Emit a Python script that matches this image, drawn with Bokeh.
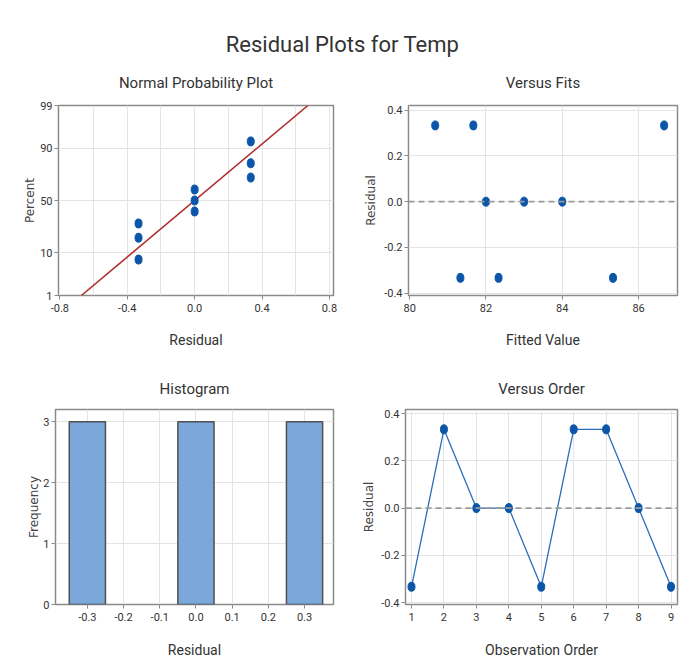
import math
from bokeh.plotting import figure
from bokeh.layouts import column, row
from bokeh.models import Range1d, FixedTicker, NumeralTickFormatter, Label, Title, Span
from bokeh.embed import file_html
from bokeh.resources import INLINE

# ---------------- data ----------------
main_title = "Residual Plots for Temp"

npp_residuals = [-0.333, -0.333, -0.333, 0.0, 0.0, 0.0, 0.333, 0.333, 0.333]
npp_percent = [7.4, 18.1, 28.7, 39.4, 50.0, 60.6, 71.3, 81.9, 92.6]
npp_tick_percent = [1, 10, 50, 90, 99]
fit_mean = 0.0
fit_sd = 0.289
fit_line_percent = [1, 99]

fitted_values = [80.67, 81.33, 81.67, 82.0, 82.33, 83.0, 84.0, 85.33, 86.67]
fits_residuals = [0.333, -0.333, 0.333, 0.0, -0.333, 0.0, 0.0, -0.333, 0.333]

hist_bin_centers = [-0.3, -0.2, -0.1, 0.0, 0.1, 0.2, 0.3]
hist_counts = [3, 0, 0, 3, 0, 0, 3]

observation_order = [1, 2, 3, 4, 5, 6, 7, 8, 9]
order_residuals = [-0.333, 0.333, 0.0, 0.0, -0.333, 0.333, 0.333, 0.0, -0.333]

# ---------------- helpers ----------------
NARROW = "Roboto"
WIDE = "DejaVu Sans"
TXT = "#333333"
BLUE = "#0B56A8"


def norm_ppf(p):
    lo, hi = -10.0, 10.0
    for _ in range(200):
        mid = 0.5 * (lo + hi)
        if 0.5 * (1 + math.erf(mid / math.sqrt(2))) < p:
            lo = mid
        else:
            hi = mid
    return 0.5 * (lo + hi)


def make_fig(title, width, height, xr, yr, bl, br, bt, bb, title_standoff):
    p = figure(width=width, height=height, x_range=Range1d(*xr), y_range=Range1d(*yr),
               output_backend="svg", toolbar_location=None,
               min_border_left=bl, min_border_right=br, min_border_top=bt, min_border_bottom=bb,
               title=Title(text=title, align="center", standoff=title_standoff,
                           text_font=NARROW, text_font_size="15px", text_font_style="normal",
                           text_color=TXT))
    p.outline_line_color = "#8a8a8a"
    p.outline_line_width = 1.5
    p.background_fill_color = "white"
    p.border_fill_color = "white"
    for ax in (p.xaxis[0], p.yaxis[0]):
        ax.axis_line_color = None
        ax.major_tick_line_color = "#8a8a8a"
        ax.major_tick_out = 4
        ax.major_tick_in = 0
        ax.minor_tick_line_color = None
        ax.major_label_text_font = NARROW
        ax.major_label_text_font_size = "11px"
        ax.major_label_text_color = TXT
    p.xaxis.major_label_standoff = 4
    p.yaxis.major_label_standoff = 2
    p.xaxis.axis_label_text_font = NARROW
    p.xaxis.axis_label_text_font_size = "14px"
    p.xaxis.axis_label_text_font_style = "normal"
    p.xaxis.axis_label_text_color = TXT
    p.yaxis.axis_label_text_font = WIDE
    p.yaxis.axis_label_text_font_size = "12px"
    p.yaxis.axis_label_text_font_style = "normal"
    p.yaxis.axis_label_text_color = "#444444"
    p.grid.grid_line_color = "#e4e4e4"
    p.grid.grid_line_width = 1
    return p


# ---------------- title ----------------
tf = figure(width=685, height=57, x_range=Range1d(0, 685), y_range=Range1d(0, 57),
            x_axis_type=None, y_axis_type=None, output_backend="svg", toolbar_location=None,
            min_border=0, outline_line_color=None)
tf.grid.visible = False
tf.add_layout(Label(x=342, y=13, text=main_title, text_align="center", text_baseline="middle",
                    text_font=NARROW, text_font_size="22px", text_color=TXT))

# ---------------- normal probability plot ----------------
zlo = norm_ppf(npp_tick_percent[0] / 100)
zhi = norm_ppf(npp_tick_percent[-1] / 100)
p1 = make_fig("Normal Probability Plot", 340, 306, (-0.808, 0.824), (zlo, zhi), 58, 7, 48, 68, 28)
p1.xaxis.axis_label = "Residual"
p1.yaxis.axis_label = "Percent"
p1.yaxis.axis_label_standoff = 0
p1.xaxis.ticker = FixedTicker(ticks=[-0.8, -0.4, 0.0, 0.4, 0.8])
p1.xaxis.formatter = NumeralTickFormatter(format="0.0")
p1.xgrid.ticker = FixedTicker(ticks=[-0.8, -0.6, -0.4, -0.2, 0.0, 0.2, 0.4, 0.6, 0.8])
zt = [norm_ppf(v / 100) for v in npp_tick_percent]
p1.yaxis.ticker = FixedTicker(ticks=zt)
p1.ygrid.ticker = FixedTicker(ticks=zt)
p1.yaxis.major_label_overrides = {z: str(v) for z, v in zip(zt, npp_tick_percent)}
fz = [norm_ppf(v / 100) for v in fit_line_percent]
p1.line([fit_mean + fit_sd * z for z in fz], fz, line_color="#B03030", line_width=1.6)
p1.ellipse(npp_residuals, [norm_ppf(v / 100) for v in npp_percent], width=7, height=9,
           width_units="screen", height_units="screen", fill_color=BLUE, line_color=BLUE)

# ---------------- versus fits ----------------
p2 = make_fig("Versus Fits", 345, 306, (79.97, 87.02), (-0.41, 0.42), 68, 8, 48, 68, 28)
p2.xaxis.axis_label = "Fitted Value"
p2.yaxis.axis_label = "Residual"
p2.yaxis.axis_label_standoff = 3
p2.xaxis.ticker = FixedTicker(ticks=[80, 82, 84, 86])
p2.yaxis.ticker = FixedTicker(ticks=[-0.4, -0.2, 0.0, 0.2, 0.4])
p2.yaxis.formatter = NumeralTickFormatter(format="0.0")
p2.add_layout(Span(location=0, dimension="width", line_color="#9a9a9a", line_width=1.8,
                   line_dash="6 4"))
p2.ellipse(fitted_values, fits_residuals, width=7, height=9,
           width_units="screen", height_units="screen", fill_color=BLUE, line_color=BLUE)

# ---------------- histogram ----------------
p3 = make_fig("Histogram", 340, 303, (-0.388, 0.38), (0, 3.2), 55, 7, 46, 62, 24)
p3.xaxis.axis_label = "Residual"
p3.yaxis.axis_label = "Frequency"
p3.yaxis.axis_label_standoff = -1
p3.xaxis.ticker = FixedTicker(ticks=hist_bin_centers)
p3.xaxis.formatter = NumeralTickFormatter(format="0.0")
p3.yaxis.ticker = FixedTicker(ticks=[0, 1, 2, 3])
bx = [c for c, n in zip(hist_bin_centers, hist_counts) if n > 0]
bn = [n for n in hist_counts if n > 0]
p3.vbar(x=bx, top=bn, bottom=0, width=0.1, fill_color="#7BA7DA", line_color="#505050",
        line_width=1.5)

# ---------------- versus order ----------------
p4 = make_fig("Versus Order", 345, 303, (0.815, 9.2), (-0.408, 0.417), 65, 8, 46, 62, 24)
p4.xaxis.axis_label = "Observation Order"
p4.yaxis.axis_label = "Residual"
p4.yaxis.axis_label_standoff = 2
p4.xaxis.ticker = FixedTicker(ticks=observation_order)
p4.yaxis.ticker = FixedTicker(ticks=[-0.4, -0.2, 0.0, 0.2, 0.4])
p4.yaxis.formatter = NumeralTickFormatter(format="0.0")
p4.add_layout(Span(location=0, dimension="width", line_color="#9a9a9a", line_width=1.8,
                   line_dash="6 4"))
p4.line(observation_order, order_residuals, line_color="#2A6EBB", line_width=1.3)
p4.ellipse(observation_order, order_residuals, width=7, height=9,
           width_units="screen", height_units="screen", fill_color=BLUE, line_color=BLUE)

for p in (p1, p2):
    p.xaxis.axis_label_standoff = 17
for p in (p3, p4):
    p.xaxis.axis_label_standoff = 18

layout = column(tf, row(p1, p2), row(p3, p4))
open("out.html", "w").write(file_html(layout, INLINE))
